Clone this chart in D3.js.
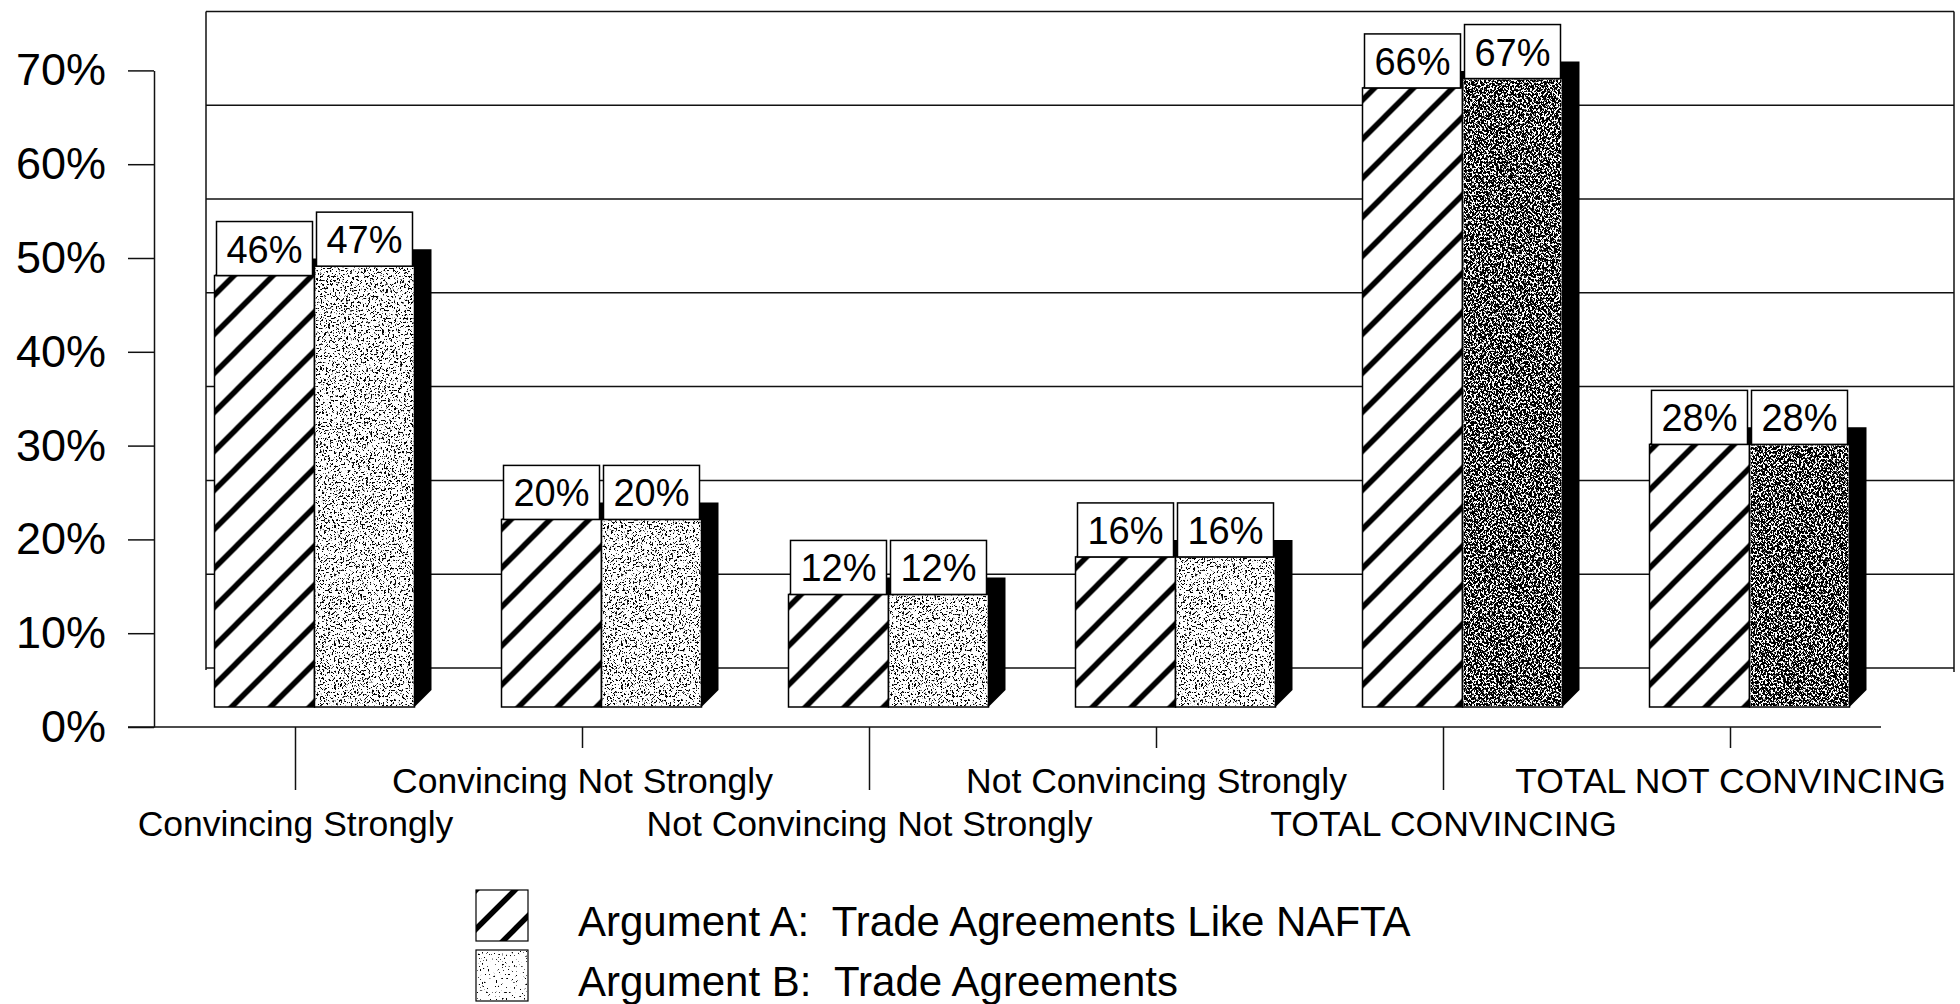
<!doctype html>
<html>
<head>
<script src="https://d3js.org/d3.v7.min.js"></script>
<style>
  body, html { margin: 0; padding: 0; overflow: hidden; background: #fff; }
  text { font-family: "Liberation Sans", Arial, sans-serif; fill: #000; }
</style>
</head>
<body>
<script>
const categories = [
  "Convincing Strongly",
  "Convincing Not Strongly",
  "Not Convincing Not Strongly",
  "Not Convincing Strongly",
  "TOTAL CONVINCING",
  "TOTAL NOT CONVINCING"
];
const argumentA = [46, 20, 12, 16, 66, 28];
const argumentB = [47, 20, 12, 16, 67, 28];
const yTicks = [0, 10, 20, 30, 40, 50, 60, 70];
const seriesNames = [
  "Argument A:  Trade Agreements Like NAFTA",
  "Argument B:  Trade Agreements"
];

const width = 1960, height = 1004;
const svg = d3.create("svg")
  .attr("width", width)
  .attr("height", height)
  .attr("viewBox", [0, 0, width, height]);

// depth planes of the 3d chart: front axis, bar plane, back wall
const yFront = d3.scaleLinear().domain([0, 70]).range([727, 70.4]);
const yBar = d3.scaleLinear().domain([0, 70]).range([707, 50.4]);
const yBack = d3.scaleLinear().domain([0, 70]).range([668, 11.4]);
const x = d3.scaleBand().domain(categories).range([152, 1874]);
const xs = d3.scaleBand().domain(["A", "B"]).range([-100, 100]);
const barShift = 19, sdx = 17, sdy = -17;

const defs = svg.append("defs");
const hatch = defs.append("pattern")
  .attr("id", "hatch")
  .attr("patternUnits", "userSpaceOnUse")
  .attr("width", 39).attr("height", 39);
hatch.append("rect").attr("width", 39).attr("height", 39).attr("fill", "#fff");
hatch.append("path")
  .attr("d", "M-10,10L10,-10M0,39L39,0M29,49L49,29")
  .attr("stroke", "#000").attr("stroke-width", 5.5);

function stipple(id, thresh, seed, freq) {
  const f = defs.append("filter").attr("id", id)
    .attr("color-interpolation-filters", "sRGB");
  f.append("feTurbulence").attr("type", "fractalNoise")
    .attr("baseFrequency", freq).attr("numOctaves", 3).attr("seed", seed)
    .attr("result", "n");
  const k = 16;
  f.append("feColorMatrix").attr("in", "n").attr("type", "matrix")
    .attr("values", `0 0 0 0 0  0 0 0 0 0  0 0 0 0 0  ${-k} 0 0 0 ${k * thresh}`)
    .attr("result", "dots");
  f.append("feComposite").attr("in", "dots").attr("in2", "SourceAlpha").attr("operator", "in");
}
stipple("stipLight", 0.42, 4, 0.5);
stipple("stipDark", 0.57, 7, 0.5);
stipple("stipLegend", 0.34, 2, 0.5);

// back wall and gridlines
const wall = svg.append("g").attr("stroke", "#111").attr("stroke-width", 1.5);
wall.selectAll("line.grid")
  .data(yTicks)
  .join("line")
  .attr("class", "grid")
  .attr("x1", 206).attr("x2", 1954)
  .attr("y1", d => yBack(d)).attr("y2", d => yBack(d));
wall.append("line").attr("x1", 206).attr("x2", 206).attr("y1", yBack(70)).attr("y2", yBack(0) + 2);
wall.append("line").attr("x1", 1954).attr("x2", 1954).attr("y1", yBack(70)).attr("y2", yBack(0) + 4);

// front value axis
const yAxis = svg.append("g")
  .attr("transform", "translate(154,0)")
  .call(d3.axisLeft(yFront).tickValues(yTicks).tickFormat(d => d + "%")
    .tickSize(26).tickSizeOuter(0).tickPadding(22));
yAxis.selectAll("path, line").attr("stroke", "#111").attr("stroke-width", 1.5);
yAxis.selectAll("text").attr("font-size", 45).attr("font-family", "Liberation Sans, Arial, sans-serif");

// floor front edge
svg.append("line")
  .attr("x1", 128).attr("x2", 1881)
  .attr("y1", yFront(0)).attr("y2", yFront(0))
  .attr("stroke", "#111").attr("stroke-width", 1.5);

// category axis, labels staggered on two rows
const xAxis = svg.append("g")
  .attr("transform", `translate(0,${yFront(0)})`)
  .call(d3.axisBottom(x).tickSizeOuter(0));
xAxis.select(".domain").remove();
xAxis.selectAll(".tick line")
  .attr("stroke", "#111").attr("stroke-width", 1.5)
  .attr("y2", (d, i) => i % 2 === 0 ? 63 : 21);
xAxis.selectAll(".tick text")
  .attr("font-size", 35.5)
  .attr("font-family", "Liberation Sans, Arial, sans-serif")
  .attr("dy", null)
  .attr("y", (d, i) => i % 2 === 0 ? 109 : 66);

// bars
const rows = categories.map((c, i) => ({
  cat: c,
  dark: c.startsWith("TOTAL"),
  bars: [{ s: "A", v: argumentA[i] }, { s: "B", v: argumentB[i] }]
}));

const groups = svg.append("g").selectAll("g")
  .data(rows)
  .join("g")
  .attr("transform", d => `translate(${x(d.cat) + x.bandwidth() / 2 + barShift},0)`);

groups.each(function (row) {
  const g = d3.select(this);
  row.bars.forEach(b => {
    const x0 = xs(b.s), x1 = x0 + xs.bandwidth();
    const top = yBar(b.v), bot = yBar(0);
    g.append("path")
      .attr("d", `M${x0},${top}L${x0 + sdx},${top + sdy}L${x1 + sdx},${top + sdy}L${x1 + sdx},${bot + sdy}L${x1},${bot}L${x1},${top}Z`)
      .attr("fill", "#000");
    g.append("rect")
      .attr("x", x0).attr("y", top)
      .attr("width", x1 - x0).attr("height", bot - top)
      .attr("fill", b.s === "A" ? "url(#hatch)" : "#fff")
      .attr("stroke", "#000").attr("stroke-width", 1.5);
    if (b.s === "B") {
      g.append("rect")
        .attr("x", x0 + 1).attr("y", top + 1)
        .attr("width", x1 - x0 - 2).attr("height", bot - top - 2)
        .attr("fill", "#000")
        .attr("filter", row.dark ? "url(#stipDark)" : "url(#stipLight)");
    }
  });
  row.bars.forEach(b => {
    const x0 = xs(b.s);
    const top = yBar(b.v);
    g.append("rect")
      .attr("x", x0 + 2).attr("y", top - 54)
      .attr("width", xs.bandwidth() - 4).attr("height", 54)
      .attr("fill", "#fff").attr("stroke", "#000").attr("stroke-width", 1.5);
    g.append("text")
      .attr("x", x0 + xs.bandwidth() / 2).attr("y", top - 13)
      .attr("text-anchor", "middle")
      .attr("font-size", 38)
      .text(b.v + "%");
  });
});

// legend
const legend = svg.append("g").attr("transform", "translate(476,890)");
const lg = legend.selectAll("g")
  .data(seriesNames)
  .join("g")
  .attr("transform", (d, i) => `translate(0,${i * 60})`);
lg.append("rect")
  .attr("width", 52).attr("height", 51)
  .attr("fill", (d, i) => i === 0 ? "url(#hatch)" : "#fff")
  .attr("stroke", "#000").attr("stroke-width", 1.2);
lg.filter((d, i) => i === 1).append("rect")
  .attr("x", 1).attr("y", 1).attr("width", 50).attr("height", 49)
  .attr("fill", "#000").attr("filter", "url(#stipLegend)");
lg.append("text")
  .attr("x", 102).attr("y", 46)
  .attr("font-size", 42)
  .style("white-space", "pre")
  .text(d => d);

document.body.appendChild(svg.node());
</script>
</body>
</html>
